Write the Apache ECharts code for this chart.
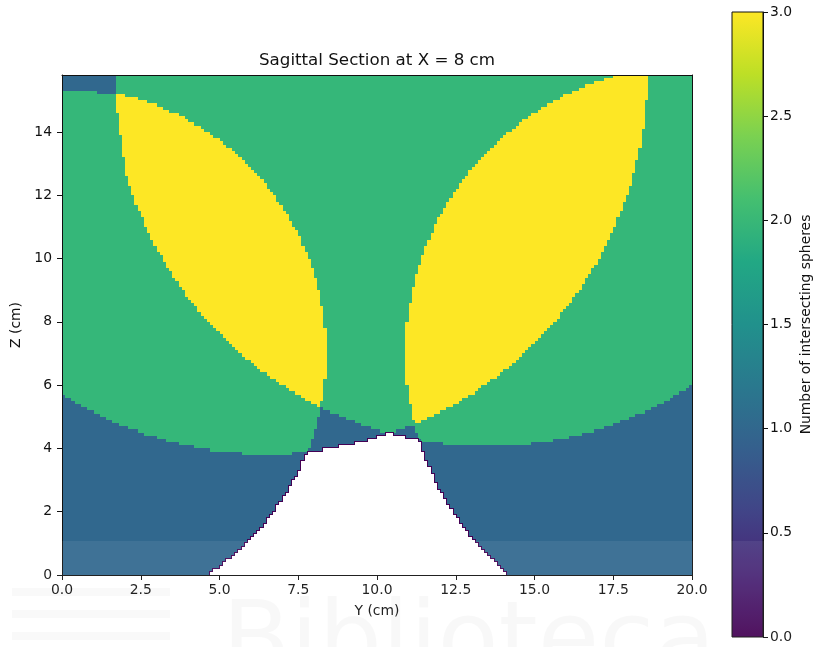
<!DOCTYPE html>
<html>
<head>
<meta charset="utf-8">
<script src="https://cdn.jsdelivr.net/npm/echarts@6/dist/echarts.min.js"></script>
<style>
  html, body { margin: 0; padding: 0; background: #ffffff; }
  #chart { width: 818px; height: 647px; }
</style>
</head>
<body>
<div id="chart"></div>
<script>
// Sagittal slice at X = 8 cm, sampled on a 1 mm grid (Y across, Z up).
// Each sphere cuts every 1 mm row along a chord; the arrays below give the
// chord edges (cm) for rows 0..157 (row k spans Z = k*0.1 .. (k+1)*0.1).
// null = the sphere does not reach that row.

const rowStep = 0.1;     // cm per row (Z)
const colStep = 0.1;     // cm per column (Y)
const yMax = 20;         // slice width along Y (cm)
const zMax = 15.8;       // slice height along Z (cm)

// Sphere 1: chord from Y = 0 to this edge
const sphere1Right = [
  4.70,4.85,4.98,5.12,5.24,5.37,5.49,5.60,5.71,5.81,
  5.92,6.02,6.11,6.20,6.29,6.38,6.46,6.55,6.62,6.70,
  6.78,6.85,6.92,6.98,7.05,7.11,7.18,7.24,7.29,7.35,
  7.40,7.46,7.51,7.56,7.60,7.65,7.69,7.74,7.78,7.82,
  7.86,7.89,7.93,7.96,7.99,8.03,8.06,8.08,8.11,8.14,
  8.16,8.18,8.21,8.23,8.25,8.26,8.28,8.30,8.31,8.33,
  8.34,8.35,8.36,8.37,8.37,8.38,8.38,8.39,8.39,8.39,
  8.39,8.39,8.39,8.38,8.38,8.37,8.37,8.36,8.35,8.34,
  8.33,8.31,8.30,8.28,8.26,8.25,8.23,8.21,8.18,8.16,
  8.14,8.11,8.08,8.06,8.03,7.99,7.96,7.93,7.89,7.86,
  7.82,7.78,7.74,7.69,7.65,7.60,7.56,7.51,7.46,7.40,
  7.35,7.29,7.24,7.18,7.11,7.05,6.98,6.92,6.85,6.78,
  6.70,6.62,6.55,6.46,6.38,6.29,6.20,6.11,6.02,5.92,
  5.81,5.71,5.60,5.49,5.37,5.24,5.12,4.98,4.85,4.70,
  4.55,4.39,4.22,4.05,3.86,3.66,3.45,3.22,2.96,2.68,
  2.37,2.00,1.15,null,null,null,null,null
];

// Sphere 2: chord from this edge to Y = 20
const sphere2Left = [
  14.13,14.01,13.90,13.79,13.68,13.58,13.48,13.39,13.29,13.20,
  13.12,13.03,12.95,12.87,12.79,12.71,12.64,12.57,12.50,12.43,
  12.36,12.30,12.24,12.18,12.12,12.06,12.01,11.95,11.90,11.85,
  11.80,11.76,11.71,11.66,11.62,11.58,11.54,11.50,11.46,11.43,
  11.39,11.36,11.33,11.29,11.27,11.24,11.21,11.18,11.16,11.13,
  11.11,11.09,11.07,11.05,11.03,11.02,11.00,10.99,10.97,10.96,
  10.95,10.94,10.93,10.92,10.92,10.91,10.91,10.90,10.90,10.90,
  10.90,10.90,10.90,10.91,10.91,10.92,10.92,10.93,10.94,10.95,
  10.96,10.97,10.99,11.00,11.02,11.03,11.05,11.07,11.09,11.11,
  11.13,11.16,11.18,11.21,11.24,11.27,11.29,11.33,11.36,11.39,
  11.43,11.46,11.50,11.54,11.58,11.62,11.66,11.71,11.76,11.80,
  11.85,11.90,11.95,12.01,12.06,12.12,12.18,12.24,12.30,12.36,
  12.43,12.50,12.57,12.64,12.71,12.79,12.87,12.95,13.03,13.12,
  13.20,13.29,13.39,13.48,13.58,13.68,13.79,13.90,14.01,14.13,
  14.25,14.37,14.50,14.64,14.78,14.92,15.07,15.23,15.40,15.57,
  15.76,15.95,16.16,16.38,16.62,16.89,17.18,17.50
];

// Sphere 3: chord edges (left, right)
const sphere3Left = [
  null,null,null,null,null,null,null,null,null,null,
  null,null,null,null,null,null,null,null,null,null,
  null,null,null,null,null,null,null,null,null,null,
  null,null,null,null,null,null,null,null,
  5.66,4.74,
  4.16,3.70,3.31,2.96,2.65,2.37,2.10,1.85,1.62,1.40,
  1.19,0.99,0.80,0.62,0.44,0.27,0.11,0,0,0,
  0,0,0,0,0,0,0,0,0,0,
  0,0,0,0,0,0,0,0,0,0,
  0,0,0,0,0,0,0,0,0,0,
  0,0,0,0,0,0,0,0,0,0,
  0,0,0,0,0,0,0,0,0,0,
  0,0,0,0,0,0,0,0,0,0,
  0,0,0,0,0,0,0,0,0,0,
  0,0,0,0,0,0,0,0,0,0,
  0,0,0,0,0,0,0,0,0,0,
  0,0,0,0,0,0,0,0
];
const sphere3Right = [
  null,null,null,null,null,null,null,null,null,null,
  null,null,null,null,null,null,null,null,null,null,
  null,null,null,null,null,null,null,null,null,null,
  null,null,null,null,null,null,null,null,
  7.34,8.26,
  8.84,9.30,9.69,10.04,10.35,10.63,10.90,11.15,11.38,11.60,
  11.81,12.01,12.20,12.38,12.56,12.73,12.89,13.05,13.20,13.35,
  13.49,13.63,13.76,13.90,14.02,14.15,14.27,14.39,14.50,14.61,
  14.72,14.83,14.93,15.03,15.13,15.23,15.32,15.42,15.51,15.59,
  15.68,15.77,15.85,15.93,16.01,16.09,16.16,16.24,16.31,16.38,
  16.45,16.52,16.58,16.65,16.71,16.78,16.84,16.90,16.95,17.01,
  17.07,17.12,17.18,17.23,17.28,17.33,17.38,17.43,17.47,17.52,
  17.56,17.61,17.65,17.69,17.73,17.77,17.81,17.84,17.88,17.91,
  17.95,17.98,18.01,18.05,18.08,18.11,18.13,18.16,18.19,18.21,
  18.24,18.26,18.28,18.31,18.33,18.35,18.37,18.39,18.40,18.42,
  18.44,18.45,18.47,18.48,18.49,18.50,18.51,18.52,18.53,18.54,
  18.55,18.56,18.56,18.57,18.57,18.58,18.58,18.58
];

// Sphere 4: chord edges (left, right)
const sphere4Left = [
  null,null,null,null,null,null,null,null,null,null,
  null,null,null,null,null,null,null,null,null,null,
  null,null,null,null,null,null,null,null,null,null,
  null,null,null,null,null,null,null,null,null,null,
  null,
  12.13,11.44,10.93,10.52,10.15,9.83,9.53,9.26,9.01,
  8.77,8.54,8.33,8.13,7.93,7.75,7.57,7.40,7.23,7.07,
  6.92,6.77,6.63,6.49,6.35,6.22,6.09,5.97,5.85,5.73,
  5.61,5.50,5.39,5.29,5.18,5.08,4.98,4.88,4.79,4.70,
  4.61,4.52,4.43,4.35,4.26,4.18,4.10,4.03,3.95,3.88,
  3.80,3.73,3.66,3.60,3.53,3.47,3.40,3.34,3.28,3.22,
  3.16,3.10,3.05,2.99,2.94,2.89,2.84,2.79,2.74,2.69,
  2.65,2.60,2.56,2.51,2.47,2.43,2.39,2.35,2.32,2.28,
  2.24,2.21,2.18,2.14,2.11,2.08,2.05,2.02,1.99,1.97,
  1.97,1.96,1.94,1.93,1.92,1.90,1.88,1.87,1.86,1.84,
  1.83,1.82,1.80,1.79,1.77,1.76,1.75,1.74,1.73,1.72,
  1.71,1.70,1.69,1.69,1.68,1.68,1.68,1.67
];
const sphere4Right = [
  null,null,null,null,null,null,null,null,null,null,
  null,null,null,null,null,null,null,null,null,null,
  null,null,null,null,null,null,null,null,null,null,
  null,null,null,null,null,null,null,null,null,null,
  null,
  14.87,15.56,16.07,16.48,16.85,17.17,17.47,17.74,17.99,
  18.23,18.46,18.67,18.87,19.07,19.25,19.43,19.60,19.77,19.93,
  20,20,20,20,20,20,20,20,20,20,
  20,20,20,20,20,20,20,20,20,20,
  20,20,20,20,20,20,20,20,20,20,
  20,20,20,20,20,20,20,20,20,20,
  20,20,20,20,20,20,20,20,20,20,
  20,20,20,20,20,20,20,20,20,20,
  20,20,20,20,20,20,20,20,20,20,
  20,20,20,20,20,20,20,20,20,20,
  20,20,20,20,20,20,20,20,20,20,
  20,20,20,20,20,20,20,20
];

// Axis ticks
const yTicks = [0, 2.5, 5, 7.5, 10, 12.5, 15, 17.5, 20];
const zTicks = [0, 2, 4, 6, 8, 10, 12, 14];
const barRange = [0, 3];
const barTicks = [0, 0.5, 1, 1.5, 2, 2.5, 3];

// viridis colour ramp and the colour used for each sphere count (0 = masked)
const viridisStops = ['#440154', '#482475', '#414487', '#355f8d', '#2a788e',
  '#21918c', '#22a884', '#44bf70', '#7ad151', '#bddf26', '#fde725'];
const countColors = ['#ffffff', '#31688e', '#35b779', '#fde725'];
const maskEdge = '#440154';

const FONT = "'DejaVu Sans', sans-serif";
const INK = '#111111';

// Number of sphere chords covering the cell centred at Y = y in row k
function sphereCount(k, y) {
  let n = 0;
  const a = sphere1Right[k];
  if (a != null && y < a) n++;
  const b = sphere2Left[k];
  if (b != null && y > b) n++;
  const l3 = sphere3Left[k], r3 = sphere3Right[k];
  if (l3 != null && r3 != null && y >= l3 && y <= r3) n++;
  const l4 = sphere4Left[k], r4 = sphere4Right[k];
  if (l4 != null && r4 != null && y >= l4 && y <= r4) n++;
  return n;
}

// Merge equal neighbouring cells of each row into runs [y0, y1, z0, z1, count]
const nCols = Math.round(yMax / colStep);
const nRows = Math.min(sphere1Right.length, sphere2Left.length, sphere3Left.length,
  sphere3Right.length, sphere4Left.length, sphere4Right.length);
const runs = [];
for (let k = 0; k < nRows; k++) {
  const z0 = +(k * rowStep).toFixed(2);
  const z1 = +((k + 1) * rowStep).toFixed(2);
  let start = 0, prev = null;
  for (let j = 0; j <= nCols; j++) {
    const n = j < nCols ? sphereCount(k, (j + 0.5) * colStep) : null;
    if (n !== prev) {
      if (prev !== null) {
        runs.push([+(start * colStep).toFixed(2), +(j * colStep).toFixed(2), z0, z1, prev]);
      }
      start = j;
      prev = n;
    }
  }
}

function renderRun(params, api) {
  const a = api.coord([api.value(0), api.value(3)]);
  const b = api.coord([api.value(1), api.value(2)]);
  const x = Math.round(a[0]), y = Math.round(a[1]);
  const w = Math.round(b[0]) - x, h = Math.round(b[1]) - y;
  const n = api.value(4);
  if (n > 0) {
    return { type: 'rect', shape: { x, y, width: w, height: h },
      style: { fill: countColors[n] }, z2: 0 };
  }
  // masked cells: white, with a thin dark rim along the outline of the masked area
  return {
    type: 'group',
    children: [
      { type: 'rect', shape: { x: x - 1, y: y - 1, width: w + 2, height: h + 2 },
        style: { fill: maskEdge }, z2: 5 },
      { type: 'rect', shape: { x, y, width: w, height: h },
        style: { fill: countColors[0] }, z2: 10 }
    ]
  };
}

function renderBar(params, api) {
  const a = api.coord([api.value(0), api.value(3)]);
  const b = api.coord([api.value(1), api.value(2)]);
  const stops = viridisStops.map((c, i) => ({ offset: i / (viridisStops.length - 1), color: c }));
  return {
    type: 'rect',
    shape: { x: a[0], y: a[1], width: b[0] - a[0], height: b[1] - a[1] },
    style: {
      fill: new echarts.graphic.LinearGradient(0, 1, 0, 0, stops),
      stroke: INK, lineWidth: 1
    }
  };
}

const labelStyle = { color: INK, fontSize: 13.9, fontFamily: FONT };
const frameLine = { show: true, onZero: false, lineStyle: { color: INK, width: 1 } };

const chart = echarts.init(document.getElementById('chart'), null, { renderer: 'canvas' });
chart.setOption({
  animation: false,
  backgroundColor: '#ffffff',
  grid: [
    { left: 62, top: 75, width: 630, height: 500 },
    { left: 732, top: 12, width: 31, height: 625 }
  ],
  xAxis: [
    {
      gridIndex: 0, type: 'value', min: 0, max: yMax, interval: 2.5, position: 'bottom',
      axisLine: frameLine,
      axisTick: { show: true, length: 5, lineStyle: { color: INK }, customValues: yTicks },
      axisLabel: Object.assign({ margin: 8, formatter: v => v.toFixed(1), customValues: yTicks }, labelStyle),
      splitLine: { show: false },
      name: 'Y (cm)', nameLocation: 'middle', nameGap: 29,
      nameTextStyle: labelStyle, z: 5
    },
    {
      gridIndex: 0, type: 'value', min: 0, max: yMax, position: 'top',
      axisLine: frameLine, axisTick: { show: false }, axisLabel: { show: false },
      splitLine: { show: false }, z: 5
    },
    { gridIndex: 1, type: 'value', min: 0, max: 1, show: false }
  ],
  yAxis: [
    {
      gridIndex: 0, type: 'value', min: 0, max: zMax, interval: 2, position: 'left',
      axisLine: frameLine,
      axisTick: { show: true, length: 5, lineStyle: { color: INK }, customValues: zTicks },
      axisLabel: Object.assign({ margin: 10, customValues: zTicks }, labelStyle),
      splitLine: { show: false },
      name: 'Z (cm)', nameLocation: 'middle', nameGap: 34, nameRotate: 90,
      nameTextStyle: labelStyle, z: 5
    },
    {
      gridIndex: 0, type: 'value', min: 0, max: zMax, position: 'right',
      axisLine: frameLine, axisTick: { show: false }, axisLabel: { show: false },
      splitLine: { show: false }, z: 5
    },
    {
      gridIndex: 1, type: 'value', min: barRange[0], max: barRange[1], interval: 0.5, position: 'right',
      axisLine: frameLine,
      axisTick: { show: true, length: 5, lineStyle: { color: INK }, customValues: barTicks },
      axisLabel: Object.assign({ margin: 7, formatter: v => v.toFixed(1), customValues: barTicks }, labelStyle),
      splitLine: { show: false },
      name: 'Number of intersecting spheres', nameLocation: 'middle', nameGap: 36, nameRotate: 90,
      nameTextStyle: labelStyle, z: 5
    }
  ],
  series: [
    {
      type: 'custom', xAxisIndex: 0, yAxisIndex: 0, silent: true, clip: true,
      renderItem: renderRun, encode: { x: [0, 1], y: [2, 3] }, data: runs
    },
    {
      type: 'custom', xAxisIndex: 2, yAxisIndex: 2, silent: true,
      renderItem: renderBar, encode: { x: [0, 1], y: [2, 3] },
      data: [[0, 1, barRange[0], barRange[1]]]
    }
  ],
  graphic: [
    {
      type: 'text', x: 377, y: 61, silent: true,
      style: { text: 'Sagittal Section at X = 8 cm', fill: INK, fontSize: 16.7, fontFamily: FONT,
        align: 'center', verticalAlign: 'middle', textAlign: 'center', textVerticalAlign: 'middle' }
    },
    // faint repository stamp across the lower edge
    {
      type: 'rect', silent: true, z: 100,
      shape: { x: 0, y: 541, width: 818, height: 106 },
      style: { fill: 'rgba(255,255,255,0.07)' }
    },
    {
      type: 'text', x: 222, y: 696, silent: true, z: 100,
      style: { text: 'Biblioteca', fill: 'rgba(0,0,0,0.028)', fontSize: 100, fontFamily: FONT,
        align: 'left', verticalAlign: 'bottom', textAlign: 'left', textVerticalAlign: 'bottom' }
    },
    { type: 'rect', silent: true, z: 100, shape: { x: 12, y: 588, width: 158, height: 8 },
      style: { fill: 'rgba(0,0,0,0.025)' } },
    { type: 'rect', silent: true, z: 100, shape: { x: 12, y: 610, width: 158, height: 8 },
      style: { fill: 'rgba(0,0,0,0.025)' } },
    { type: 'rect', silent: true, z: 100, shape: { x: 12, y: 632, width: 158, height: 8 },
      style: { fill: 'rgba(0,0,0,0.025)' } }
  ]
});
</script>
</body>
</html>
